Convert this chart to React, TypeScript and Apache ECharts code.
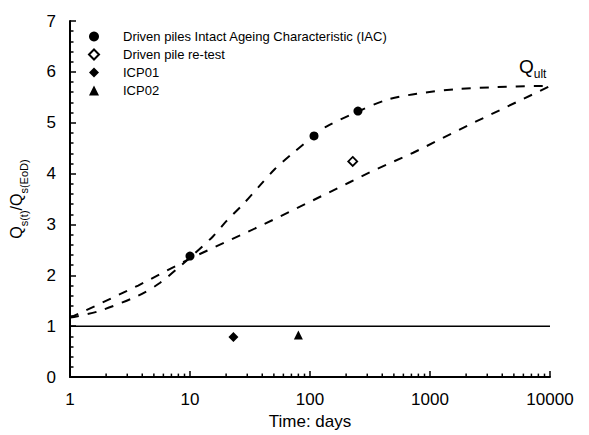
import React, { useEffect, useRef } from "react";
import * as echarts from "echarts";

const FONT = "'Liberation Sans', Arial, sans-serif";

// Measured points
const iacDays = [10, 108, 251];
const iacQ = [2.38, 4.74, 5.23];
const retestDays = [227];
const retestQ = [4.24];
const icp01Days = [23];
const icp01Q = [0.79];
const icp02Days = [80];
const icp02Q = [0.83];

// Dashed trend curves
const upperDays = [1, 1.7, 3.7, 5.6, 10, 15.6, 20, 28, 37, 51, 70, 108, 138, 251, 436, 776, 1660, 3590, 7700, 10000];
const upperQ = [1.17, 1.29, 1.6, 1.85, 2.35, 2.77, 3.06, 3.41, 3.73, 4.09, 4.38, 4.74, 4.93, 5.22, 5.45, 5.57, 5.66, 5.7, 5.72, 5.72];
const lowerDays = [1, 1.7, 3.7, 10, 41, 93, 214, 324, 724, 2450, 10000];
const lowerQ = [1.17, 1.42, 1.8, 2.33, 3.0, 3.41, 3.83, 4.04, 4.41, 5.03, 5.72];

// Reference line Q = 1
const refDays = [1, 10000];
const refQ = [1, 1];

// Log-axis minor tick positions
const decades = [1, 10, 100, 1000];
const minorMult = [2, 3, 4, 5, 6, 7, 8, 9];

const names = [
  "Driven piles Intact Ageing Characteristic (IAC)",
  "Driven pile re-test",
  "ICP01",
  "ICP02",
];

const zip = (xs: number[], ys: number[]) => xs.map((x, i) => [x, ys[i]]);

export default function App() {
  const ref = useRef<HTMLDivElement>(null);
  useEffect(() => {
    if (!ref.current) return;
    const chart = echarts.init(ref.current, undefined, { renderer: "svg" });
    const minorTicks = decades.flatMap((d) => minorMult.map((m) => [m * d, 0]));
    chart.setOption({
      animation: false,
      backgroundColor: "#fff",
      grid: { left: 70, right: 39, top: 21, bottom: 52, containLabel: false },
      legend: {
        orient: "vertical",
        left: 83,
        top: 25,
        itemWidth: 10,
        itemHeight: 10,
        itemGap: 5,
        data: names,
        textStyle: { fontFamily: FONT, fontSize: 13, color: "#000", padding: [0, 0, 0, 19] },
      },
      xAxis: {
        type: "log",
        logBase: 10,
        min: 1,
        max: 10000,
        name: "Time: days",
        nameLocation: "middle",
        nameGap: 32,
        nameTextStyle: { fontFamily: FONT, fontSize: 17, color: "#000" },
        axisLine: { show: true, onZero: false, lineStyle: { color: "#000", width: 2 } },
        axisTick: { show: true, inside: true, length: 6, lineStyle: { color: "#000", width: 1.5 } },
        axisLabel: {
          fontFamily: FONT,
          fontSize: 17,
          color: "#000",
          margin: 14,
          formatter: (v: number) => String(Math.round(v)),
        },
        splitLine: { show: false },
        minorTick: { show: false },
      },
      yAxis: {
        type: "value",
        min: 0,
        max: 7,
        interval: 1,
        name: "{q|Q}{s|s(t)}{q|/Q}{s|s(EoD)}",
        nameLocation: "middle",
        nameRotate: 90,
        nameGap: 41,
        nameTextStyle: {
          rich: {
            q: { fontSize: 16, fontFamily: FONT, color: "#000", verticalAlign: "bottom", padding: [0, 0, 5, 0], lineHeight: 24 },
            s: { fontSize: 11, fontFamily: FONT, color: "#000", verticalAlign: "bottom", lineHeight: 24 },
          },
        },
        axisLine: { show: true, lineStyle: { color: "#000", width: 2 } },
        axisTick: { show: true, inside: true, length: 6, lineStyle: { color: "#000", width: 1.5 } },
        minorTick: { show: true, splitNumber: 5, length: 3.5, lineStyle: { color: "#000", width: 1.5 } },
        axisLabel: { fontFamily: FONT, fontSize: 17, color: "#000", margin: 14 },
        splitLine: { show: false },
      },
      series: [
        {
          type: "custom",
          silent: true,
          data: minorTicks,
          renderItem: (params: any, api: any) => {
            const p = api.coord([api.value(0), 0]);
            return {
              type: "line",
              shape: { x1: p[0], y1: p[1], x2: p[0], y2: p[1] - 3.5 },
              style: { stroke: "#000", lineWidth: 1.5 },
            };
          },
          z: 1,
        },
        {
          type: "line",
          data: zip(refDays, refQ),
          showSymbol: false,
          symbol: "none",
          lineStyle: { color: "#000", width: 1.3 },
          silent: true,
        },
        {
          type: "line",
          data: zip(upperDays, upperQ),
          smooth: 0.3,
          symbol: "none",
          showSymbol: false,
          lineStyle: { color: "#000", width: 2, type: [9, 9] },
          silent: true,
          endLabel: {
            show: true,
            offset: [-39, -18],
            formatter: () => "{q|Q}{s|ult}",
            rich: {
              q: { fontSize: 19, fontFamily: FONT, color: "#000", verticalAlign: "bottom", padding: [0, 0, 4, 0], lineHeight: 24 },
              s: { fontSize: 12, fontFamily: FONT, color: "#000", verticalAlign: "bottom", lineHeight: 24 },
            },
          },
        },
        {
          type: "line",
          data: zip(lowerDays, lowerQ),
          symbol: "none",
          showSymbol: false,
          lineStyle: { color: "#000", width: 2, type: [9, 9] },
          silent: true,
        },
        {
          name: names[0],
          type: "scatter",
          data: zip(iacDays, iacQ),
          symbol: "circle",
          symbolSize: 9,
          itemStyle: { color: "#000", opacity: 1 },
          z: 5,
        },
        {
          name: names[1],
          type: "scatter",
          data: zip(retestDays, retestQ),
          symbol: "diamond",
          symbolSize: 9,
          itemStyle: { color: "#fff", borderColor: "#000", borderWidth: 1.8, opacity: 1 },
          z: 5,
        },
        {
          name: names[2],
          type: "scatter",
          data: zip(icp01Days, icp01Q),
          symbol: "diamond",
          symbolSize: 10,
          itemStyle: { color: "#000", opacity: 1 },
          z: 5,
        },
        {
          name: names[3],
          type: "scatter",
          data: zip(icp02Days, icp02Q),
          symbol: "triangle",
          symbolSize: 9,
          itemStyle: { color: "#000", opacity: 1 },
          z: 5,
        },
      ],
    });
    return () => chart.dispose();
  }, []);
  return <div ref={ref} style={{ width: 589, height: 435, marginLeft: -8, marginTop: -8 }} />;
}
